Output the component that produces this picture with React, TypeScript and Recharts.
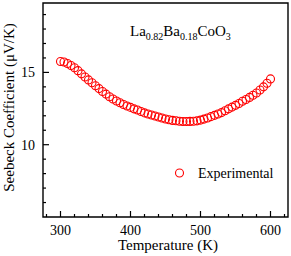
import React from "react";
import { ScatterChart, Scatter, XAxis, YAxis, ReferenceArea } from "recharts";

const temperatures = [
  300, 305, 310, 315, 320, 325, 330, 335, 340, 345, 350, 355, 360, 365, 370, 375, 380, 385, 390, 395,
  400, 405, 410, 415, 420, 425, 430, 435, 440, 445, 450, 455, 460, 465, 470, 475, 480, 485, 490, 495,
  500, 505, 510, 515, 520, 525, 530, 535, 540, 545, 550, 555, 560, 565, 570, 575, 580, 585, 590, 595, 600,
];
const seebeck = [
  15.75, 15.72, 15.62, 15.48, 15.32, 15.12, 14.9, 14.68, 14.48, 14.28, 14.08, 13.88, 13.68, 13.5, 13.32, 13.16, 13.02, 12.9, 12.78, 12.68,
  12.58, 12.48, 12.4, 12.3, 12.2, 12.12, 12.05, 11.98, 11.92, 11.85, 11.78, 11.73, 11.68, 11.66, 11.62, 11.6, 11.6, 11.61, 11.62, 11.65,
  11.7, 11.77, 11.85, 11.94, 12.03, 12.12, 12.22, 12.35, 12.48, 12.6, 12.72, 12.85, 13.0, 13.13, 13.27, 13.42, 13.58, 13.78, 14.0, 14.25, 14.55,
];
const xTicks = [280, 300, 320, 340, 360, 380, 400, 420, 440, 460, 480, 500, 520, 540, 560, 580, 600, 620];
const xMajor = [300, 400, 500, 600];
const yTicks = [6, 7, 8, 9, 10, 11, 12, 13, 14, 15, 16, 17, 18, 19];
const yMajor = [10, 15];

const data = temperatures.map((t, i) => ({ t, s: seebeck[i] }));

const FONT = '"Times New Roman", "Liberation Serif", serif';
const TXT: React.CSSProperties = { fontFamily: FONT, fontWeight: 400 };

const XTick = (props: any) => {
  const { x, y, payload } = props;
  const v = payload.value;
  const major = xMajor.includes(v);
  return (
    <g>
      <line x1={x} x2={x} y1={y} y2={y - (major ? 6 : 3)} stroke="#000" strokeWidth={1.2} />
      {major && (
        <text x={x} y={y + 18} textAnchor="middle" fontSize={14} style={TXT} fill="#000">
          {v}
        </text>
      )}
    </g>
  );
};

const YTick = (props: any) => {
  const { x, y, payload } = props;
  const v = payload.value;
  const major = yMajor.includes(v);
  return (
    <g>
      <line x1={x} x2={x + (major ? 6 : 3)} y1={y} y2={y} stroke="#000" strokeWidth={1.2} />
      {major && (
        <text x={x - 8} y={y + 5} textAnchor="end" fontSize={14} style={TXT} fill="#000">
          {v}
        </text>
      )}
    </g>
  );
};

const Ring = (props: any) => {
  const { cx, cy } = props;
  return <circle cx={cx} cy={cy} r={4} fill="none" stroke="#ff0000" strokeWidth={1.1} />;
};

export default function App() {
  return (
    <div style={{ position: "absolute", left: 0, top: 0, width: 291, height: 256, background: "#fff", fontFamily: FONT }}>
      <ScatterChart width={291} height={256} margin={{ top: 3, right: 3, bottom: 0, left: 0 }}>
        <XAxis
          type="number"
          dataKey="t"
          domain={[275, 625]}
          ticks={xTicks}
          interval={0}
          tick={<XTick />}
          tickLine={false}
          axisLine={false}
          tickSize={0}
          tickMargin={0}
          height={39}
          allowDataOverflow
        />
        <YAxis
          type="number"
          dataKey="s"
          domain={[5, 19.8]}
          ticks={yTicks}
          interval={0}
          tick={<YTick />}
          tickLine={false}
          axisLine={false}
          tickSize={0}
          tickMargin={0}
          width={43}
          allowDataOverflow
        />
        <ReferenceArea x1={275} x2={625} y1={5} y2={19.8} fill="none" stroke="#000" strokeWidth={1.4} fillOpacity={0} />
        <Scatter data={data} shape={<Ring />} isAnimationActive={false} />
      </ScatterChart>
      <svg
        width={291}
        height={256}
        style={{ position: "absolute", left: 0, top: 0, pointerEvents: "none", fontFamily: FONT }}
      >
        <text x={130} y={36} fontSize={15} fill="#000" style={TXT}>
          La<tspan fontSize={10} dy={4}>0.82</tspan>
          <tspan fontSize={15} dy={-4}>Ba</tspan>
          <tspan fontSize={10} dy={4}>0.18</tspan>
          <tspan fontSize={15} dy={-4}>CoO</tspan>
          <tspan fontSize={10} dy={4}>3</tspan>
        </text>
        <circle cx={179.5} cy={173} r={4} fill="none" stroke="#ff0000" strokeWidth={1.1} />
        <text x={198} y={178} fontSize={14} fill="#000" style={TXT}>Experimental</text>
        <text x={168} y={250} fontSize={15} textAnchor="middle" fill="#000" style={TXT}>Temperature (K)</text>
        <text
          transform="translate(14,107.5) rotate(-90)"
          x={0}
          y={0}
          fontSize={15}
          textAnchor="middle"
          fill="#000"
          style={TXT}
        >
          Seebeck Coefficient (μV/K)
        </text>
      </svg>
    </div>
  );
}
